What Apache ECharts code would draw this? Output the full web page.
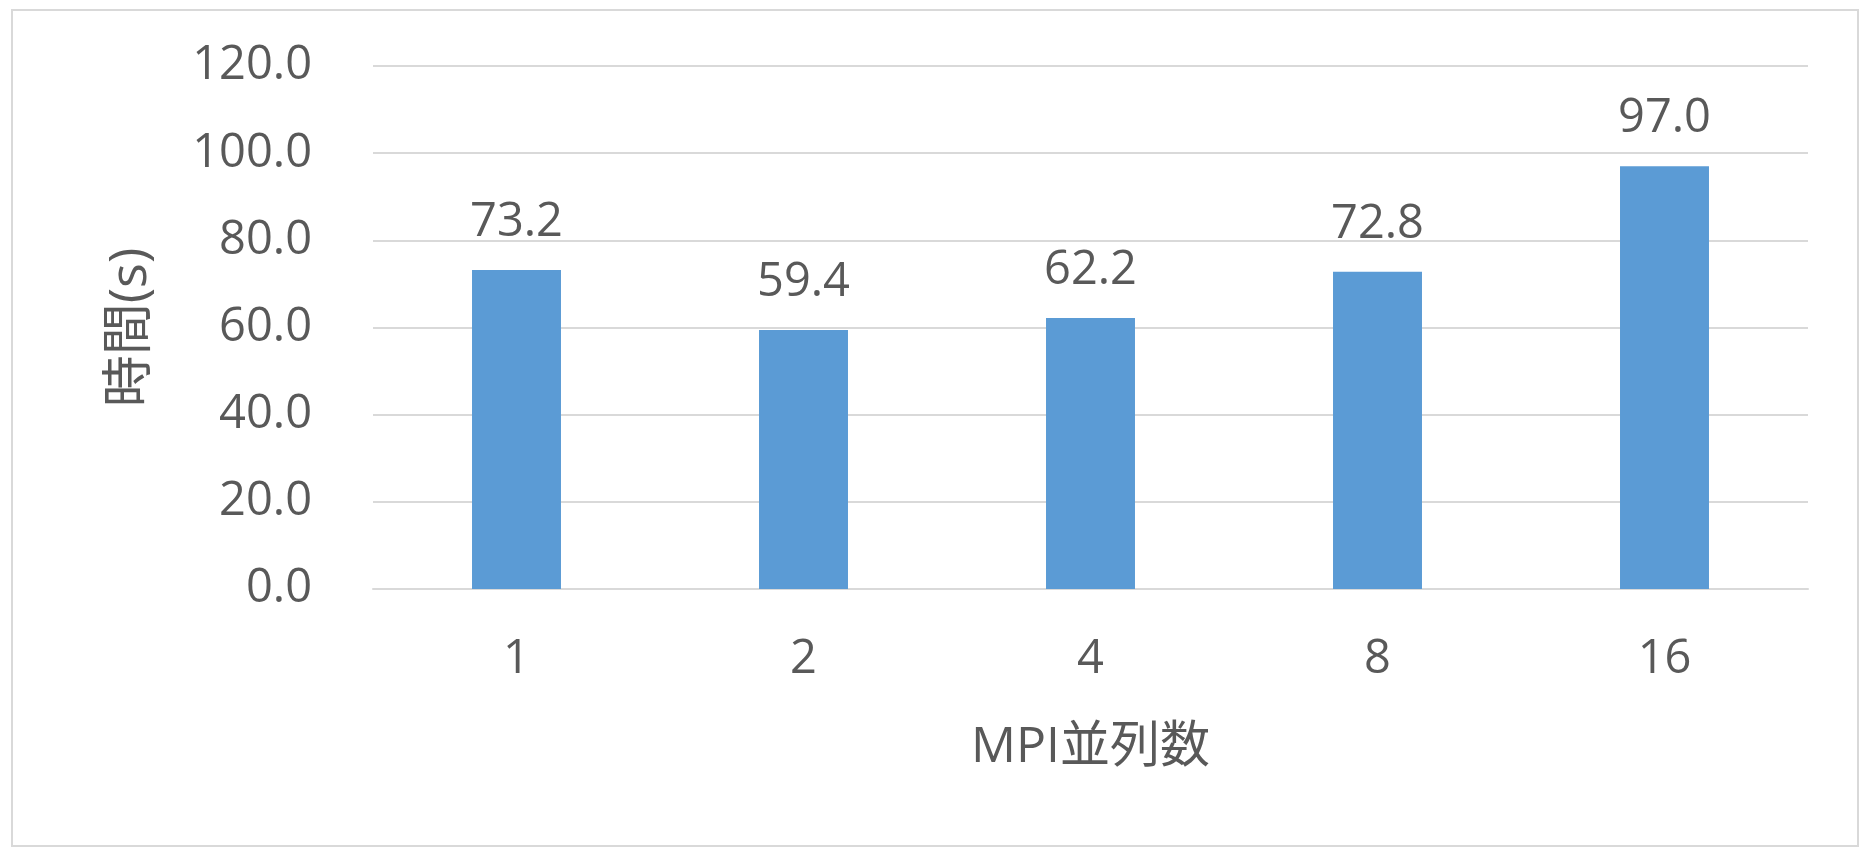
<!DOCTYPE html>
<html>
<head>
<meta charset="utf-8">
<script src="https://cdn.jsdelivr.net/npm/echarts@6/dist/echarts.min.js"></script>
<style>
html,body{margin:0;padding:0;background:#fff;}
#chart{width:1863px;height:853px;}
</style>
</head>
<body>
<div id="chart"></div>
<script>
const categories = ['1', '2', '4', '8', '16'];
const times = [73.2, 59.4, 62.2, 72.8, 97.0];
const yTicks = { min: 0, max: 120, interval: 20 };
const xTitle = 'MPI並列数';
const yTitle = '時間(s)';

const FONT = '"Open Sans", "Noto Sans CJK JP", sans-serif';
const TXT = '#595959';

const chart = echarts.init(document.getElementById('chart'));
chart.setOption({
  animation: false,
  backgroundColor: '#ffffff',
  graphic: [{
    type: 'rect',
    shape: { x: 12, y: 10, width: 1846, height: 836 },
    style: { fill: 'none', stroke: '#d9d9d9', lineWidth: 2 },
    silent: true
  }],
  grid: { left: 373, right: 55, top: 66, bottom: 264, containLabel: false },
  xAxis: {
    type: 'category',
    data: categories,
    axisTick: { show: false },
    axisLine: { lineStyle: { color: '#d9d9d9', width: 2 } },
    axisLabel: { color: TXT, fontSize: 47, fontFamily: FONT, margin: 47 },
    name: xTitle,
    nameLocation: 'middle',
    nameGap: 134,
    nameTextStyle: { color: TXT, fontSize: 50, fontFamily: FONT }
  },
  yAxis: {
    type: 'value',
    min: yTicks.min, max: yTicks.max, interval: yTicks.interval,
    axisLine: { show: false },
    axisTick: { show: false },
    splitLine: { lineStyle: { color: '#d9d9d9', width: 2 } },
    axisLabel: {
      color: TXT, fontSize: 47, fontFamily: FONT, margin: 61,
      formatter: v => v.toFixed(1)
    },
    name: yTitle,
    nameLocation: 'middle',
    nameGap: 216,
    nameTextStyle: { color: TXT, fontSize: 52, fontFamily: FONT }
  },
  series: [{
    type: 'bar',
    data: times,
    barWidth: '31%',
    itemStyle: { color: '#5B9BD5' },
    label: {
      show: true, position: 'top', distance: 24,
      color: TXT, fontSize: 47, fontFamily: FONT,
      formatter: p => p.value.toFixed(1)
    }
  }]
});
</script>
</body>
</html>
